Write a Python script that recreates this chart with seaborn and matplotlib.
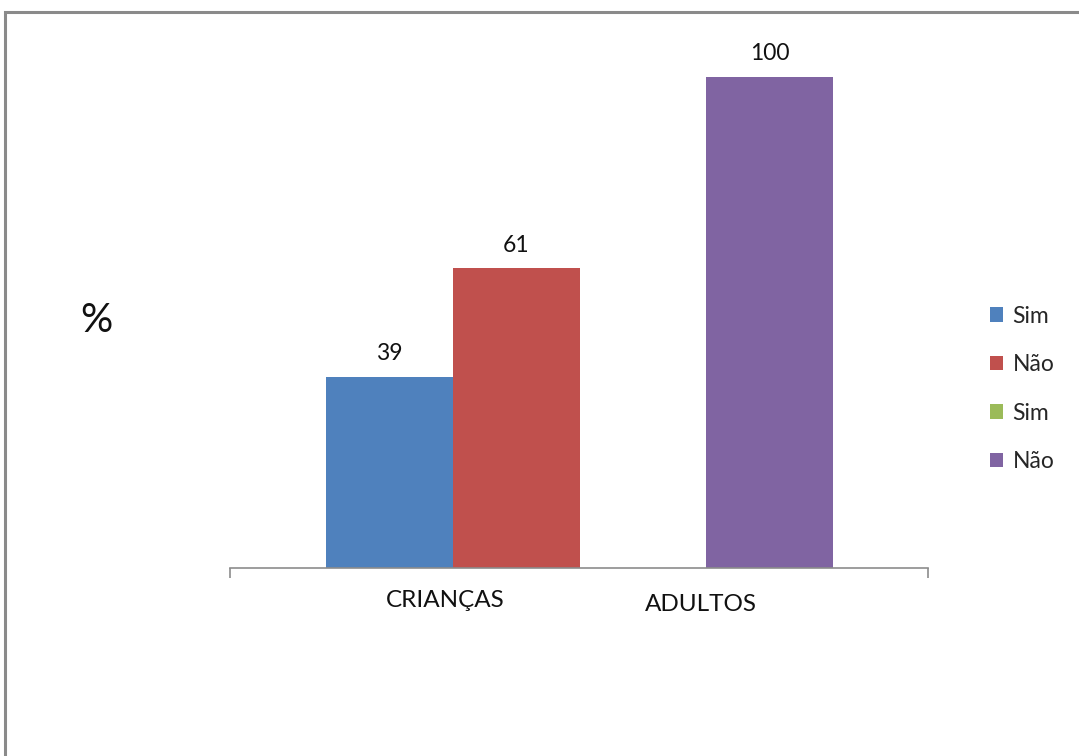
import numpy as np
import pandas as pd
import matplotlib
matplotlib.use("Agg")
import matplotlib.pyplot as plt
from matplotlib.patches import Patch, Rectangle
import seaborn as sns

# Series (one bar slot each) and their values in percent
series_keys = ["crianca_sim", "crianca_nao", "adulto_sim", "adulto_nao"]
series_names = ["Sim", "Não", "Sim", "Não"]
values = [39, 61, np.nan, 100]
colors = ["#4F81BD", "#C0504D", "#9BBB59", "#8064A2"]

group_labels = ["CRIANÇAS", "ADULTOS"]
group_label_pos = [0.44, 2.46]

df = pd.DataFrame({"serie": series_keys, "valor": values})

sns.set_theme(style="white")
plt.rcParams["font.family"] = ["Lato", "DejaVu Sans"]

fig = plt.figure(figsize=(10.79, 7.56), dpi=100)
W, H = 1079, 756
ax = fig.add_axes([230 / W, 1 - 568 / H, (928 - 230) / W, (568 - 77) / H])

palette = dict(zip(series_keys, colors))
sns.barplot(data=df, x="serie", y="valor", hue="serie", order=series_keys,
            hue_order=series_keys, palette=palette, width=1.0, dodge=False,
            saturation=1.0, legend=False, ax=ax, linewidth=0)

# value labels above bars
for cont in ax.containers:
    labs = []
    for bar in cont:
        h = bar.get_height()
        labs.append("" if (h is None or np.isnan(h) or h == 0) else f"{h:.0f}")
    ax.bar_label(cont, labels=labs, padding=9, fontsize=16.5, color="#111111")

ax.set_xlim(-1.258, 4.247)
ax.set_ylim(0, 100)
ax.set_xlabel("")
ax.set_ylabel("")
ax.set_yticks([])

for s in ["top", "right", "left"]:
    ax.spines[s].set_visible(False)
ax.spines["bottom"].set_color("#8C8C8C")
ax.spines["bottom"].set_linewidth(1.2)

ax.set_xticks(group_label_pos)
ax.set_xticklabels(group_labels, fontsize=17.5, color="#111111")
ax.tick_params(axis="x", which="major", length=0, pad=16)
ax.set_xticks([-1.258, 4.247], minor=True)
ax.tick_params(axis="x", which="minor", length=7, width=1.2, color="#8C8C8C",
               direction="out", bottom=True)
ax.get_xticklabels()[1].set_y(-0.008)

# axis title
fig.text(96 / W, 1 - 320 / H, "%", fontsize=29, ha="center", va="center",
         color="#111111")

# legend
handles = [Patch(facecolor=c, edgecolor="none", label=n)
           for n, c in zip(series_names, colors)]
fig.legend(handles=handles, loc="center left",
           bbox_to_anchor=(969 / W, 1 - 389 / H), frameon=False,
           fontsize=16.5, handlelength=0.6, handleheight=0.6,
           handletextpad=0.4, labelspacing=1.2)

# outer chart frame
fig.add_artist(Rectangle((5 / W, -0.5), 2.0, (1 - 12 / H) + 0.5,
                         transform=fig.transFigure, fill=False,
                         edgecolor="#8A8A8A", linewidth=2.2, clip_on=False))

fig.savefig("out.png", dpi=100, facecolor="white")
